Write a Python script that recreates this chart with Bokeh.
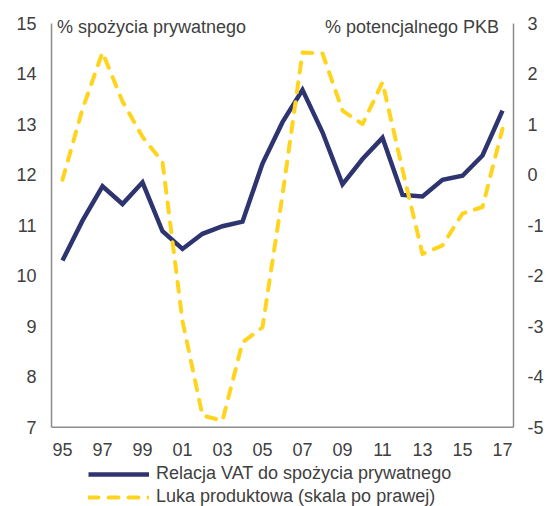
from bokeh.plotting import figure
from bokeh.models import Range1d, LinearAxis, FixedTicker, Legend, LegendItem, Label, Span
from bokeh.core.properties import value
from bokeh.embed import file_html
from bokeh.resources import INLINE

years = [1995, 1996, 1997, 1998, 1999, 2000, 2001, 2002, 2003, 2004, 2005, 2006,
         2007, 2008, 2009, 2010, 2011, 2012, 2013, 2014, 2015, 2016, 2017]
vat = [10.30, 11.09, 11.77, 11.42, 11.85, 10.88, 10.53, 10.83, 10.98, 11.07, 12.22, 13.04,
       13.68, 12.84, 11.81, 12.31, 12.73, 11.60, 11.57, 11.90, 11.98, 12.38, 13.27]
gap = [-0.10, 1.30, 2.42, 1.45, 0.75, 0.25, -2.90, -4.77, -4.87, -3.32, -3.02, -0.40,
       2.42, 2.40, 1.27, 1.00, 1.83, 0.10, -1.57, -1.40, -0.77, -0.64, 0.91]

tick_years = [1995, 1997, 1999, 2001, 2003, 2005, 2007, 2009, 2011, 2013, 2015, 2017]
tick_labels = ["95", "97", "99", "01", "03", "05", "07", "09", "11", "13", "15", "17"]
left_ticks = [7, 8, 9, 10, 11, 12, 13, 14, 15]
right_ticks = [-5, -4, -3, -2, -1, 0, 1, 2, 3]

left_title = "% spożycia prywatnego"
right_title = "% potencjalnego PKB"
series_names = ["Relacja VAT do spożycia prywatnego", "Luka produktowa (skala po prawej)"]

FONT = "Liberation Sans"
TXT = "#404040"
AX = "#8c8c8c"
NAVY = "#2E3470"
YELLOW = "#FFD41F"

# frame spans the whole figure height; axis lines limited with bounds
p = figure(width=547, height=506, output_backend="svg", toolbar_location=None,
           x_range=Range1d(1994.45, 2017.55), y_range=Range1d(5.4297, 15.4495),
           min_border_left=51, min_border_right=34, min_border_top=0, min_border_bottom=0)
p.extra_y_ranges = {"gap": Range1d(-6.5703, 3.4495)}
p.grid.visible = False
p.outline_line_color = None
p.background_fill_color = "white"
p.border_fill_color = "white"
p.xaxis.visible = False

r1 = p.line(years, vat, line_color=NAVY, line_width=4.5, line_join="miter")
r2 = p.line(years, gap, y_range_name="gap", line_color=YELLOW, line_width=4,
            line_dash="10 10", line_cap="round", line_join="round")

def style(ax, standoff):
    ax.axis_line_color = AX
    ax.axis_line_width = 1.5
    ax.major_tick_out = 0
    ax.major_tick_in = 0
    ax.minor_tick_out = 0
    ax.minor_tick_in = 0
    ax.major_label_text_font = FONT
    ax.major_label_text_font_size = "18px"
    ax.major_label_text_color = TXT
    ax.major_label_standoff = standoff

ya = p.yaxis[0]
ya.ticker = FixedTicker(ticks=left_ticks)
ya.bounds = (left_ticks[0], left_ticks[-1])
style(ya, 15)

ra = LinearAxis(y_range_name="gap", ticker=FixedTicker(ticks=right_ticks),
                bounds=(right_ticks[0], right_ticks[-1]))
ra.major_label_overrides = {v: str(v) for v in right_ticks}
style(ra, 14)
p.add_layout(ra, "right")

# x axis line at the bottom of the left scale, and its tick labels
p.add_layout(Span(location=left_ticks[0], dimension="width", line_color=AX, line_width=1.5))
p.text(x=tick_years, y=6.552, text=tick_labels, text_font=value(FONT), text_font_size="18px",
       text_color=TXT, text_align="center", text_baseline="middle")

p.add_layout(Label(x=1994.72, y=14.92, text=left_title, text_font=FONT, text_font_size="18px",
                   text_color=TXT, text_align="left", text_baseline="alphabetic"))
p.add_layout(Label(x=2016.83, y=14.92, text=right_title, text_font=FONT, text_font_size="18px",
                   text_color=TXT, text_align="right", text_baseline="alphabetic"))

legend = Legend(items=[LegendItem(label=series_names[0], renderers=[r1]),
                       LegendItem(label=series_names[1], renderers=[r2])],
                location=(37, -1), orientation="vertical",
                border_line_color=None, background_fill_alpha=0,
                padding=0, margin=0, spacing=2, glyph_width=61, glyph_height=20,
                label_height=20, label_standoff=7,
                label_text_font=FONT, label_text_font_size="18px", label_text_color=TXT)
p.add_layout(legend)

open("out.html", "w").write(file_html(p, INLINE))
